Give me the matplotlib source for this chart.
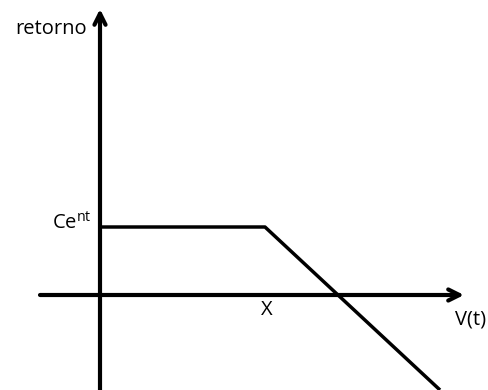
import matplotlib.pyplot as plt

# payoff curve (V on x, retorno on y)
v_pts = [0, 165, 340]
ret_pts = [68, 68, -95]

# axis extents
x_axis = [-60, 364]
y_axis = [-95, 286]

plt.rcParams["mathtext.fontset"] = "custom"
plt.rcParams["mathtext.rm"] = "Open Sans"
plt.rcParams["font.family"] = "Open Sans"


def arrow(ax, start, end):
    ax.annotate("", xy=end, xytext=start,
                arrowprops=dict(arrowstyle="->", lw=3, color="black",
                                mutation_scale=20, shrinkA=0, shrinkB=0))


def main():
    fig = plt.figure(figsize=(4.89, 3.90), dpi=100)
    ax = fig.add_axes([0, 0, 1, 1])
    ax.set_xlim(-100, 389)
    ax.set_ylim(-95, 295)
    ax.axis("off")

    # axes with arrows
    arrow(ax, (x_axis[0], 0), (x_axis[1], 0))
    arrow(ax, (0, y_axis[0]), (0, y_axis[1]))

    # payoff
    ax.plot(v_pts, ret_pts, color="black", lw=2.5, solid_capstyle="butt")

    # labels
    ax.text(-13, 266, "retorno", fontsize=14.5, ha="right", va="center")
    ax.text(-8, 72, r"Ce$^{\mathrm{nt}}$", fontsize=14.5, ha="right", va="center")
    ax.text(v_pts[1] + 2, -15, "X", fontsize=14.5, ha="center", va="center")
    ax.text(371, -24, "V(t)", fontsize=14.5, ha="center", va="center")

    fig.savefig("out.png", dpi=100)


if __name__ == "__main__":
    main()
